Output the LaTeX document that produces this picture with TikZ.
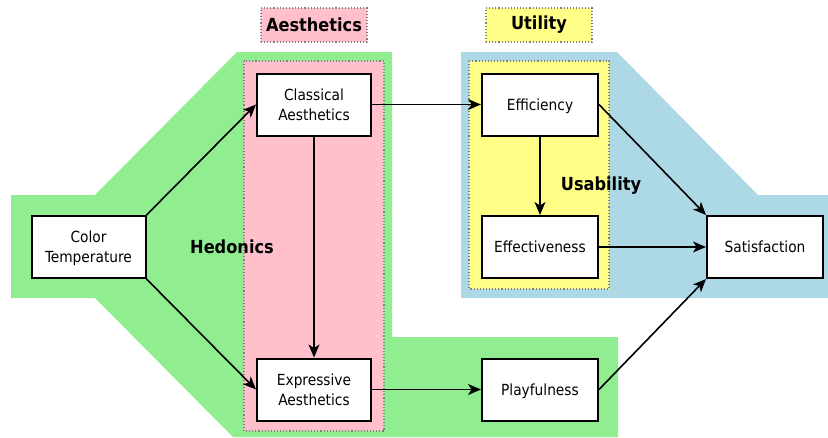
\documentclass[tikz,border=0pt]{standalone}
\usepackage{fontspec}
\setmainfont{DejaVu Sans Condensed}
\usetikzlibrary{arrows.meta}
\definecolor{hedgreen}{HTML}{90EE90}
\definecolor{aespink}{HTML}{FFC0CB}
\definecolor{utilyellow}{HTML}{FFFF88}
\definecolor{usablue}{HTML}{ADD8E6}
\tikzset{
  box/.style={draw=black, line width=2pt, fill=white, minimum width=114pt,
    minimum height=62pt, align=center, inner sep=0pt, text depth=0pt,
    font=\fontsize{15.3pt}{20pt}\selectfont},
  conn/.style={line width=1.6pt, -{Stealth[length=13pt, width=11pt, inset=3.5pt]}},
  group/.style={draw=gray, dotted, line width=1.1pt},
  grouplabel/.style={group, minimum width=106pt, minimum height=34pt, inner sep=0pt,
    font=\fontsize{18pt}{20pt}\selectfont\bfseries},
  areatext/.style={font=\fontsize{18pt}{20pt}\selectfont\bfseries}
}
\begin{document}
\begin{tikzpicture}[x=1pt, y=-1pt]
\useasboundingbox (0,0) rectangle (828,437);
% hedonic region
\fill[hedgreen] (237,52) -- (392,52) -- (392,337) -- (618,337) -- (618,437)
  -- (233,437) -- (95,298) -- (11,298) -- (11,195) -- (95,195) -- cycle;
% usability region
\fill[usablue] (461,52) -- (617,52) -- (758,195) -- (828,195) -- (828,298)
  -- (461,298) -- cycle;
% group frames
\draw[group, fill=aespink] (244,61) rectangle (384,431);
\draw[group, fill=utilyellow] (469,61) rectangle (609,289);
\node[grouplabel, fill=aespink] (aeslabel) at (314,25) {Aesthetics};
\node[grouplabel, fill=utilyellow] (utillabel) at (539,25) {Utility};
\node[areatext] (hedonics) at (232,247) {Hedonics};
\node[areatext] (usability) at (601,186) {Usability};
% constructs
\node[box] (ct) at (88.5,247) {Color\\Temperature};
\node[box] (cls) at (314,104.5) {Classical\\Aesthetics};
\node[box] (exp) at (314,389.5) {Expressive\\Aesthetics};
\node[box, minimum width=116pt] (eff) at (540,104.5) {Efficiency};
\node[box, minimum width=116pt] (effv) at (540,247) {Effectiveness};
\node[box, minimum width=116pt] (play) at (540,389.5) {Playfulness};
\node[box, minimum width=116pt] (sat) at (765,247) {Satisfaction};
% paths
\draw[conn] (ct.north east) -- (cls.west);
\draw[conn] (ct.south east) -- (exp.west);
\draw[conn] (cls.south) -- (exp.north);
\draw[conn] (cls.east) -- (eff.west);
\draw[conn] (eff.south) -- (effv.north);
\draw[conn] (eff.east) -- (sat.north west);
\draw[conn] (effv.east) -- (sat.west);
\draw[conn] (exp.east) -- (play.west);
\draw[conn] (play.east) -- (sat.south west);
\end{tikzpicture}
\end{document}
